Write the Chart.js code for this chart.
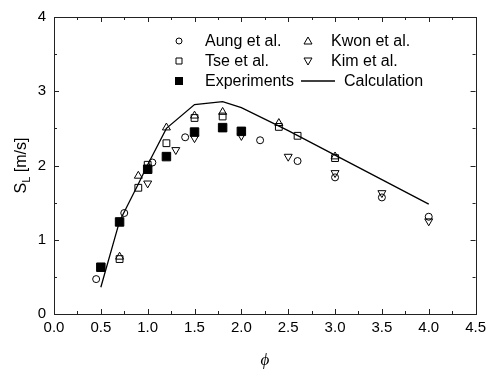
<!DOCTYPE html>
<html>
<head>
<meta charset="utf-8">
<script src="https://cdn.jsdelivr.net/npm/chart.js@4/dist/chart.umd.min.js"></script>
<style>
  body { margin: 0; background: #fff; }
  #wrap { width: 491px; height: 371px; }
</style>
</head>
<body>
<div id="wrap"><canvas id="myChart" width="491" height="371"></canvas></div>
<script>
// equivalence ratio (phi) and laminar burning velocity S_L [m/s]
var aungPhi = [0.45, 0.75, 1.05, 1.4, 2.2, 2.6, 3.0, 3.5, 4.0];
var aungSL  = [0.47, 1.36, 2.04, 2.38, 2.34, 2.06, 1.84, 1.57, 1.31];
var kwonPhi = [0.7, 0.9, 1.2, 1.5, 1.8, 2.4, 3.0];
var kwonSL  = [0.77, 1.86, 2.51, 2.67, 2.72, 2.57, 2.12];
var tsePhi  = [0.7, 0.9, 1.0, 1.2, 1.5, 1.8, 2.4, 2.6, 3.0];
var tseSL   = [0.74, 1.70, 2.01, 2.30, 2.64, 2.66, 2.52, 2.40, 2.10];
var kimPhi  = [1.0, 1.3, 1.5, 2.0, 2.5, 3.0, 3.5, 4.0];
var kimSL   = [1.76, 2.21, 2.37, 2.40, 2.12, 1.90, 1.63, 1.25];
var expPhi  = [0.5, 0.7, 1.0, 1.2, 1.5, 1.8, 2.0];
var expSL   = [0.63, 1.24, 1.95, 2.12, 2.45, 2.51, 2.46];
var calcPhi = [0.5, 0.7, 0.9, 1.0, 1.2, 1.5, 1.8, 2.0, 2.5, 3.0, 3.5, 4.0];
var calcSL  = [0.36, 1.25, 1.75, 2.01, 2.50, 2.82, 2.86, 2.78, 2.47, 2.14, 1.81, 1.48];

var xTicks = [0, 0.5, 1, 1.5, 2, 2.5, 3, 3.5, 4, 4.5];
var yTicks = [0, 1, 2, 3, 4];

var pts = function(xs, ys) {
    return xs.map(function(x, i) { return {x: x, y: ys[i]}; });
};

var FONT = '"Liberation Sans", Arial, sans-serif';

var marker = function(label, xs, ys, style, r, rot, fill) {
    return {
        label: label,
        data: pts(xs, ys),
        pointStyle: style,
        pointRadius: r,
        pointHoverRadius: r,
        pointRotation: rot || 0,
        pointBorderWidth: 1,
        borderColor: '#000',
        pointBorderColor: '#000',
        pointBackgroundColor: fill ? '#000' : 'rgba(0,0,0,0)',
        backgroundColor: fill ? '#000' : 'rgba(0,0,0,0)',
        showLine: false
    };
};

// legend rows, two columns like the original
var legendRows = [
    [{label: 'Aung et al.', kind: 'circle'}, {label: 'Kwon et al.', kind: 'tri'}],
    [{label: 'Tse et al.', kind: 'square'}, {label: 'Kim et al.', kind: 'tridown'}],
    [{label: 'Experiments', kind: 'filled'}, {label: 'Calculation', kind: 'line'}]
];

var drawSymbol = function(ctx, kind, x, y) {
    ctx.save();
    ctx.strokeStyle = '#000';
    ctx.fillStyle = '#000';
    ctx.lineWidth = 1;
    ctx.beginPath();
    if (kind === 'circle') {
        ctx.arc(x, y, 3, 0, Math.PI * 2);
        ctx.stroke();
    } else if (kind === 'square') {
        ctx.rect(x - 3, y - 3, 6, 6);
        ctx.stroke();
    } else if (kind === 'filled') {
        ctx.rect(x - 4, y - 4, 8, 8);
        ctx.fill();
    } else if (kind === 'tri') {
        ctx.moveTo(x, y - 4);
        ctx.lineTo(x + 4, y + 3);
        ctx.lineTo(x - 4, y + 3);
        ctx.closePath();
        ctx.stroke();
    } else if (kind === 'tridown') {
        ctx.moveTo(x, y + 4);
        ctx.lineTo(x + 4, y - 3);
        ctx.lineTo(x - 4, y - 3);
        ctx.closePath();
        ctx.stroke();
    } else if (kind === 'line') {
        ctx.lineWidth = 1.3;
        ctx.moveTo(x - 17, y);
        ctx.lineTo(x + 17, y);
        ctx.stroke();
    }
    ctx.restore();
};

var framePlugin = {
    id: 'frame',
    afterDraw: function(chart) {
        var ctx = chart.ctx;
        var a = chart.chartArea;
        var xs = chart.scales.x, ys = chart.scales.y;
        ctx.save();
        ctx.strokeStyle = '#222';
        ctx.lineWidth = 1;
        ctx.strokeRect(Math.round(a.left) + 0.5, Math.round(a.top) + 0.5,
            Math.round(a.right - a.left), Math.round(a.bottom - a.top));

        // inward ticks on all four sides
        ctx.beginPath();
        var v, px, len;
        for (v = 0; v <= 4.5001; v += 0.25) {
            px = Math.round(xs.getPixelForValue(v)) + 0.5;
            len = (Math.abs(v * 2 - Math.round(v * 2)) < 1e-6) ? 5 : 3;
            ctx.moveTo(px, a.bottom);
            ctx.lineTo(px, a.bottom - len);
            ctx.moveTo(px, a.top);
            ctx.lineTo(px, a.top + len);
        }
        for (v = 0; v <= 4.0001; v += 0.5) {
            px = Math.round(ys.getPixelForValue(v)) + 0.5;
            len = (Math.abs(v - Math.round(v)) < 1e-6) ? 5 : 3;
            ctx.moveTo(a.left, px);
            ctx.lineTo(a.left + len, px);
            ctx.moveTo(a.right, px);
            ctx.lineTo(a.right - len, px);
        }
        ctx.stroke();

        // legend
        ctx.font = '16px ' + FONT;
        ctx.fillStyle = '#000';
        ctx.textBaseline = 'middle';
        ctx.textAlign = 'left';
        var colSym = [179, 308], colTxt = [205, 331], rowY = [41, 61, 81];
        legendRows.forEach(function(row, r) {
            row.forEach(function(it, c) {
                var sx = colSym[c], tx = colTxt[c];
                if (it.kind === 'line') { sx = 318; tx = 344; }
                drawSymbol(ctx, it.kind, sx, rowY[r]);
                ctx.fillText(it.label, tx, rowY[r] + 1);
            });
        });

        // x axis title
        ctx.font = 'italic 17px "Liberation Serif", "DejaVu Serif", serif';
        ctx.textAlign = 'center';
        ctx.fillText('\u03d5', (a.left + a.right) / 2, 361);

        // y axis title with subscript
        ctx.translate(20, (a.top + a.bottom) / 2);
        ctx.rotate(-Math.PI / 2);
        ctx.textAlign = 'left';
        ctx.textBaseline = 'alphabetic';
        var big = '16px ' + FONT, small = '11px ' + FONT;
        ctx.font = big;
        var wS = ctx.measureText('S').width;
        var wRest = ctx.measureText(' [m/s]').width;
        ctx.font = small;
        var wL = ctx.measureText('L').width;
        var total = wS + wL + wRest;
        var x0 = -total / 2;
        ctx.font = big;
        ctx.fillText('S', x0, 6);
        ctx.font = small;
        ctx.fillText('L', x0 + wS, 10);
        ctx.font = big;
        ctx.fillText(' [m/s]', x0 + wS + wL, 6);
        ctx.restore();
    }
};

var config = {
    type: 'scatter',
    data: {
        datasets: [
            marker('Aung et al.', aungPhi, aungSL, 'circle', 3.5),
            marker('Kwon et al.', kwonPhi, kwonSL, 'triangle', 4.6),
            marker('Tse et al.', tsePhi, tseSL, 'rect', 4.8),
            marker('Kim et al.', kimPhi, kimSL, 'triangle', 4.6, 180),
            marker('Experiments', expPhi, expSL, 'rect', 6, 0, true),
            {
                label: 'Calculation',
                data: pts(calcPhi, calcSL),
                showLine: true,
                borderColor: '#000',
                borderWidth: 1.3,
                pointRadius: 0,
                pointHoverRadius: 0,
                fill: false,
                tension: 0
            }
        ]
    },
    options: {
        responsive: false,
        animation: false,
        devicePixelRatio: 1,
        layout: { padding: { top: 15, right: 12, left: 0, bottom: 0 } },
        plugins: {
            legend: { display: false },
            tooltip: { enabled: false },
            title: { display: false }
        },
        scales: {
            x: {
                type: 'linear',
                min: 0, max: 4.5,
                afterBuildTicks: function(s) { s.ticks = xTicks.map(function(v) { return {value: v}; }); },
                afterFit: function(s) { s.height = 57; },
                ticks: {
                    color: '#000',
                    font: { family: FONT, size: 15 },
                    padding: 5,
                    maxRotation: 0,
                    callback: function(v) { return v.toFixed(1); }
                },
                grid: { display: false, drawTicks: false },
                border: { display: false }
            },
            y: {
                type: 'linear',
                min: 0, max: 4,
                afterBuildTicks: function(s) { s.ticks = yTicks.map(function(v) { return {value: v}; }); },
                afterFit: function(s) { s.width = 54; },
                ticks: {
                    color: '#000',
                    font: { family: FONT, size: 15 },
                    padding: 8,
                    callback: function(v) { return String(v); }
                },
                grid: { display: false, drawTicks: false },
                border: { display: false }
            }
        }
    },
    plugins: [framePlugin]
};

var ctx = document.getElementById("myChart").getContext("2d");
window.myScatter = new Chart(ctx, config);
</script>
</body>
</html>
